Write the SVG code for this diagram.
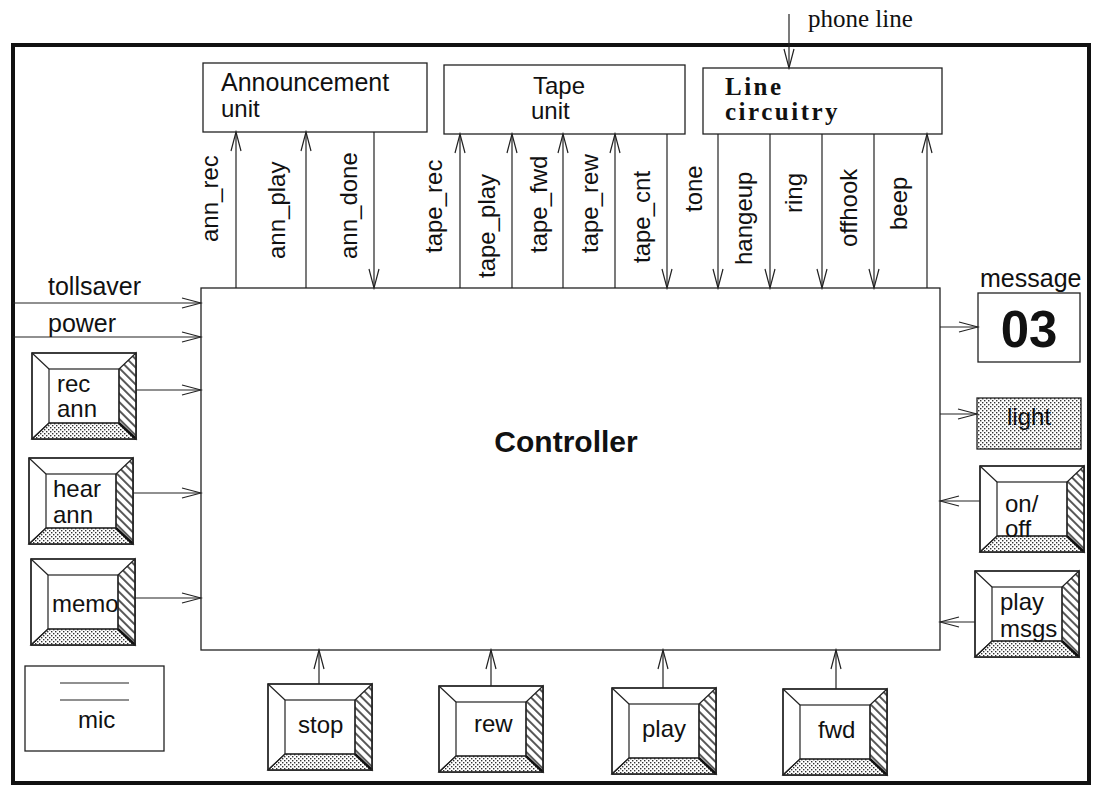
<svg xmlns="http://www.w3.org/2000/svg" xmlns:xlink="http://www.w3.org/1999/xlink" width="1099" height="793" viewBox="0 0 1099 793">
<style>
.box{fill:#fff;stroke:#222;stroke-width:1.3}
.ln{stroke:#222;stroke-width:1.2;fill:none}
.t{font-family:"Liberation Sans",Arial,sans-serif;font-size:24px;fill:#111}
.s{font-family:"Liberation Serif","Times New Roman",serif;font-size:25px;fill:#111}
.up{marker-end:url(#arr)}
</style>
<defs>
<marker id="arr" markerUnits="userSpaceOnUse" markerWidth="22" markerHeight="12" viewBox="0 0 22 12" refX="20" refY="6" orient="auto">
<path d="M1,1 L20,6 L1,11" fill="none" stroke="#222" stroke-width="1.2"/>
</marker>
<pattern id="dots" patternUnits="userSpaceOnUse" width="4" height="4">
<rect width="4" height="4" fill="#fff"/>
<rect x="0" y="0" width="1.4" height="1.4" fill="#333"/>
<rect x="2" y="2" width="1.4" height="1.4" fill="#333"/>
</pattern>
<pattern id="hatch" patternUnits="userSpaceOnUse" width="6" height="6" patternTransform="rotate(-45)">
<rect width="6" height="6" fill="#fff"/>
<line x1="3" y1="0" x2="3" y2="6" stroke="#111" stroke-width="1.4"/>
</pattern>
<g id="btn">
<rect x="0" y="0" width="104" height="86" class="box"/>
<polygon points="0,86 104,86 87,70 17,70" fill="url(#dots)" stroke="#222" stroke-width="1.2"/>
<polygon points="104,0 104,86 87,70 87,16" fill="url(#hatch)" stroke="#222" stroke-width="1.2"/>
<line x1="0" y1="0" x2="17" y2="16" class="ln"/>
<line x1="0" y1="86" x2="17" y2="70" class="ln"/>
<line x1="104" y1="86" x2="87" y2="70" stroke="#111" stroke-width="2.5"/>
<rect x="17" y="16" width="70" height="54" fill="none" stroke="#222" stroke-width="1.2"/>
<rect x="0" y="0" width="104" height="86" fill="none" stroke="#222" stroke-width="1.3"/>
</g>
</defs>
<rect width="1099" height="793" fill="#fff"/>
<rect id="frame" x="13" y="45" width="1076" height="738" fill="none" stroke="#111" stroke-width="4"/>

<g id="announcement"><rect x="203" y="63" width="224" height="69" class="box"/><text class="t" x="221" y="91" style="font-size:25px">Announcement</text><text class="t" x="221" y="117">unit</text></g>
<g id="tape"><rect x="444" y="65" width="241" height="69" class="box"/><text class="t" x="533" y="94">Tape</text><text class="t" x="531" y="119">unit</text></g>
<g id="line"><rect x="703" y="68" width="239" height="66" class="box"/><text class="s" x="725" y="95" font-weight="bold" letter-spacing="2.5">Line</text><text class="s" x="725" y="120" font-weight="bold" letter-spacing="2.5">circuitry</text></g>
<g id="controller"><rect x="201" y="288" width="739" height="362" class="box"/><text class="t" x="566" y="452" text-anchor="middle" font-weight="bold" style="font-size:30px">Controller</text></g>

<g id="message"><text class="t" x="980" y="287" style="font-size:25px">message</text><rect x="978" y="293" width="102" height="69" class="box"/><text class="t" x="1029" y="347" text-anchor="middle" font-weight="bold" style="font-size:51px">03</text></g>
<g id="light"><rect x="977" y="398" width="104" height="51" fill="url(#dots)" stroke="#222" stroke-width="1.3"/><text class="t" x="1029" y="425" text-anchor="middle">light</text></g>

<g id="rec-ann"><use xlink:href="#btn" x="32" y="353"/><text class="t" x="57" y="392">rec</text><text class="t" x="57" y="417">ann</text></g>
<g id="hear-ann"><use xlink:href="#btn" x="29" y="458"/><text class="t" x="53" y="497">hear</text><text class="t" x="53" y="523">ann</text></g>
<g id="memo"><use xlink:href="#btn" x="31" y="559"/><text class="t" x="52" y="612">memo</text></g>
<g id="mic"><rect x="25" y="666" width="139" height="85" class="box"/><line x1="60" y1="683" x2="129" y2="683" class="ln"/><line x1="60" y1="700" x2="129" y2="700" class="ln"/><text class="t" x="78" y="728">mic</text></g>
<g id="stop"><use xlink:href="#btn" x="268" y="684"/><text class="t" x="298" y="733">stop</text></g>
<g id="rew"><use xlink:href="#btn" x="439" y="686"/><text class="t" x="474" y="732">rew</text></g>
<g id="play"><use xlink:href="#btn" x="612" y="688"/><text class="t" x="642" y="737">play</text></g>
<g id="fwd"><use xlink:href="#btn" x="783" y="689"/><text class="t" x="818" y="738">fwd</text></g>
<g id="onoff"><use xlink:href="#btn" x="980" y="466"/><text class="t" x="1005" y="512">on/</text><text class="t" x="1005" y="537">off</text></g>
<g id="playmsgs"><use xlink:href="#btn" x="975" y="571"/><text class="t" x="1000" y="610">play</text><text class="t" x="1000" y="637">msgs</text></g>

<g id="connectors">
<line x1="236" y1="288" x2="236" y2="132" class="ln up"/>
<line x1="306" y1="288" x2="306" y2="132" class="ln up"/>
<line x1="374" y1="132" x2="374" y2="288" class="ln up"/>
<line x1="460" y1="288" x2="460" y2="134" class="ln up"/>
<line x1="512" y1="288" x2="512" y2="134" class="ln up"/>
<line x1="563" y1="288" x2="563" y2="134" class="ln up"/>
<line x1="615" y1="288" x2="615" y2="134" class="ln up"/>
<line x1="667" y1="134" x2="667" y2="288" class="ln up"/>
<line x1="718" y1="134" x2="718" y2="288" class="ln up"/>
<line x1="770" y1="134" x2="770" y2="288" class="ln up"/>
<line x1="822" y1="134" x2="822" y2="288" class="ln up"/>
<line x1="874" y1="134" x2="874" y2="288" class="ln up"/>
<line x1="927" y1="288" x2="927" y2="134" class="ln up"/>
<line x1="789" y1="14" x2="789" y2="68" class="ln up"/>
<line x1="13" y1="303" x2="201" y2="303" class="ln up"/>
<line x1="13" y1="337" x2="201" y2="337" class="ln up"/>
<line x1="136" y1="390" x2="201" y2="390" class="ln up"/>
<line x1="133" y1="493" x2="201" y2="493" class="ln up"/>
<line x1="135" y1="598" x2="201" y2="598" class="ln up"/>
<line x1="319" y1="684" x2="319" y2="650" class="ln up"/>
<line x1="491" y1="686" x2="491" y2="650" class="ln up"/>
<line x1="663" y1="688" x2="663" y2="650" class="ln up"/>
<line x1="836" y1="689" x2="836" y2="650" class="ln up"/>
<line x1="940" y1="327" x2="978" y2="327" class="ln up"/>
<line x1="940" y1="414" x2="977" y2="414" class="ln up"/>
<line x1="980" y1="501" x2="940" y2="501" class="ln up"/>
<line x1="975" y1="622" x2="940" y2="622" class="ln up"/>
</g>
<g id="labels">
<text class="s" x="808" y="27">phone line</text>
<text class="t" x="48" y="295" style="font-size:25px">tollsaver</text>
<text class="t" x="48" y="332" style="font-size:25px">power</text>
<text class="t" transform="translate(218,242) rotate(-90)">ann_rec</text>
<text class="t" transform="translate(285,259) rotate(-90)">ann_play</text>
<text class="t" transform="translate(357,259) rotate(-90)">ann_done</text>
<text class="t" transform="translate(442,253) rotate(-90)">tape_rec</text>
<text class="t" transform="translate(495,278) rotate(-90)">tape_play</text>
<text class="t" transform="translate(547,253) rotate(-90)">tape_fwd</text>
<text class="t" transform="translate(598,253) rotate(-90)">tape_rew</text>
<text class="t" transform="translate(650,263) rotate(-90)">tape_cnt</text>
<text class="t" transform="translate(702,212) rotate(-90)">tone</text>
<text class="t" transform="translate(752,265) rotate(-90)">hangeup</text>
<text class="t" transform="translate(802,213) rotate(-90)">ring</text>
<text class="t" transform="translate(857,247) rotate(-90)">offhook</text>
<text class="t" transform="translate(907,230) rotate(-90)">beep</text>
</g>
</svg>
